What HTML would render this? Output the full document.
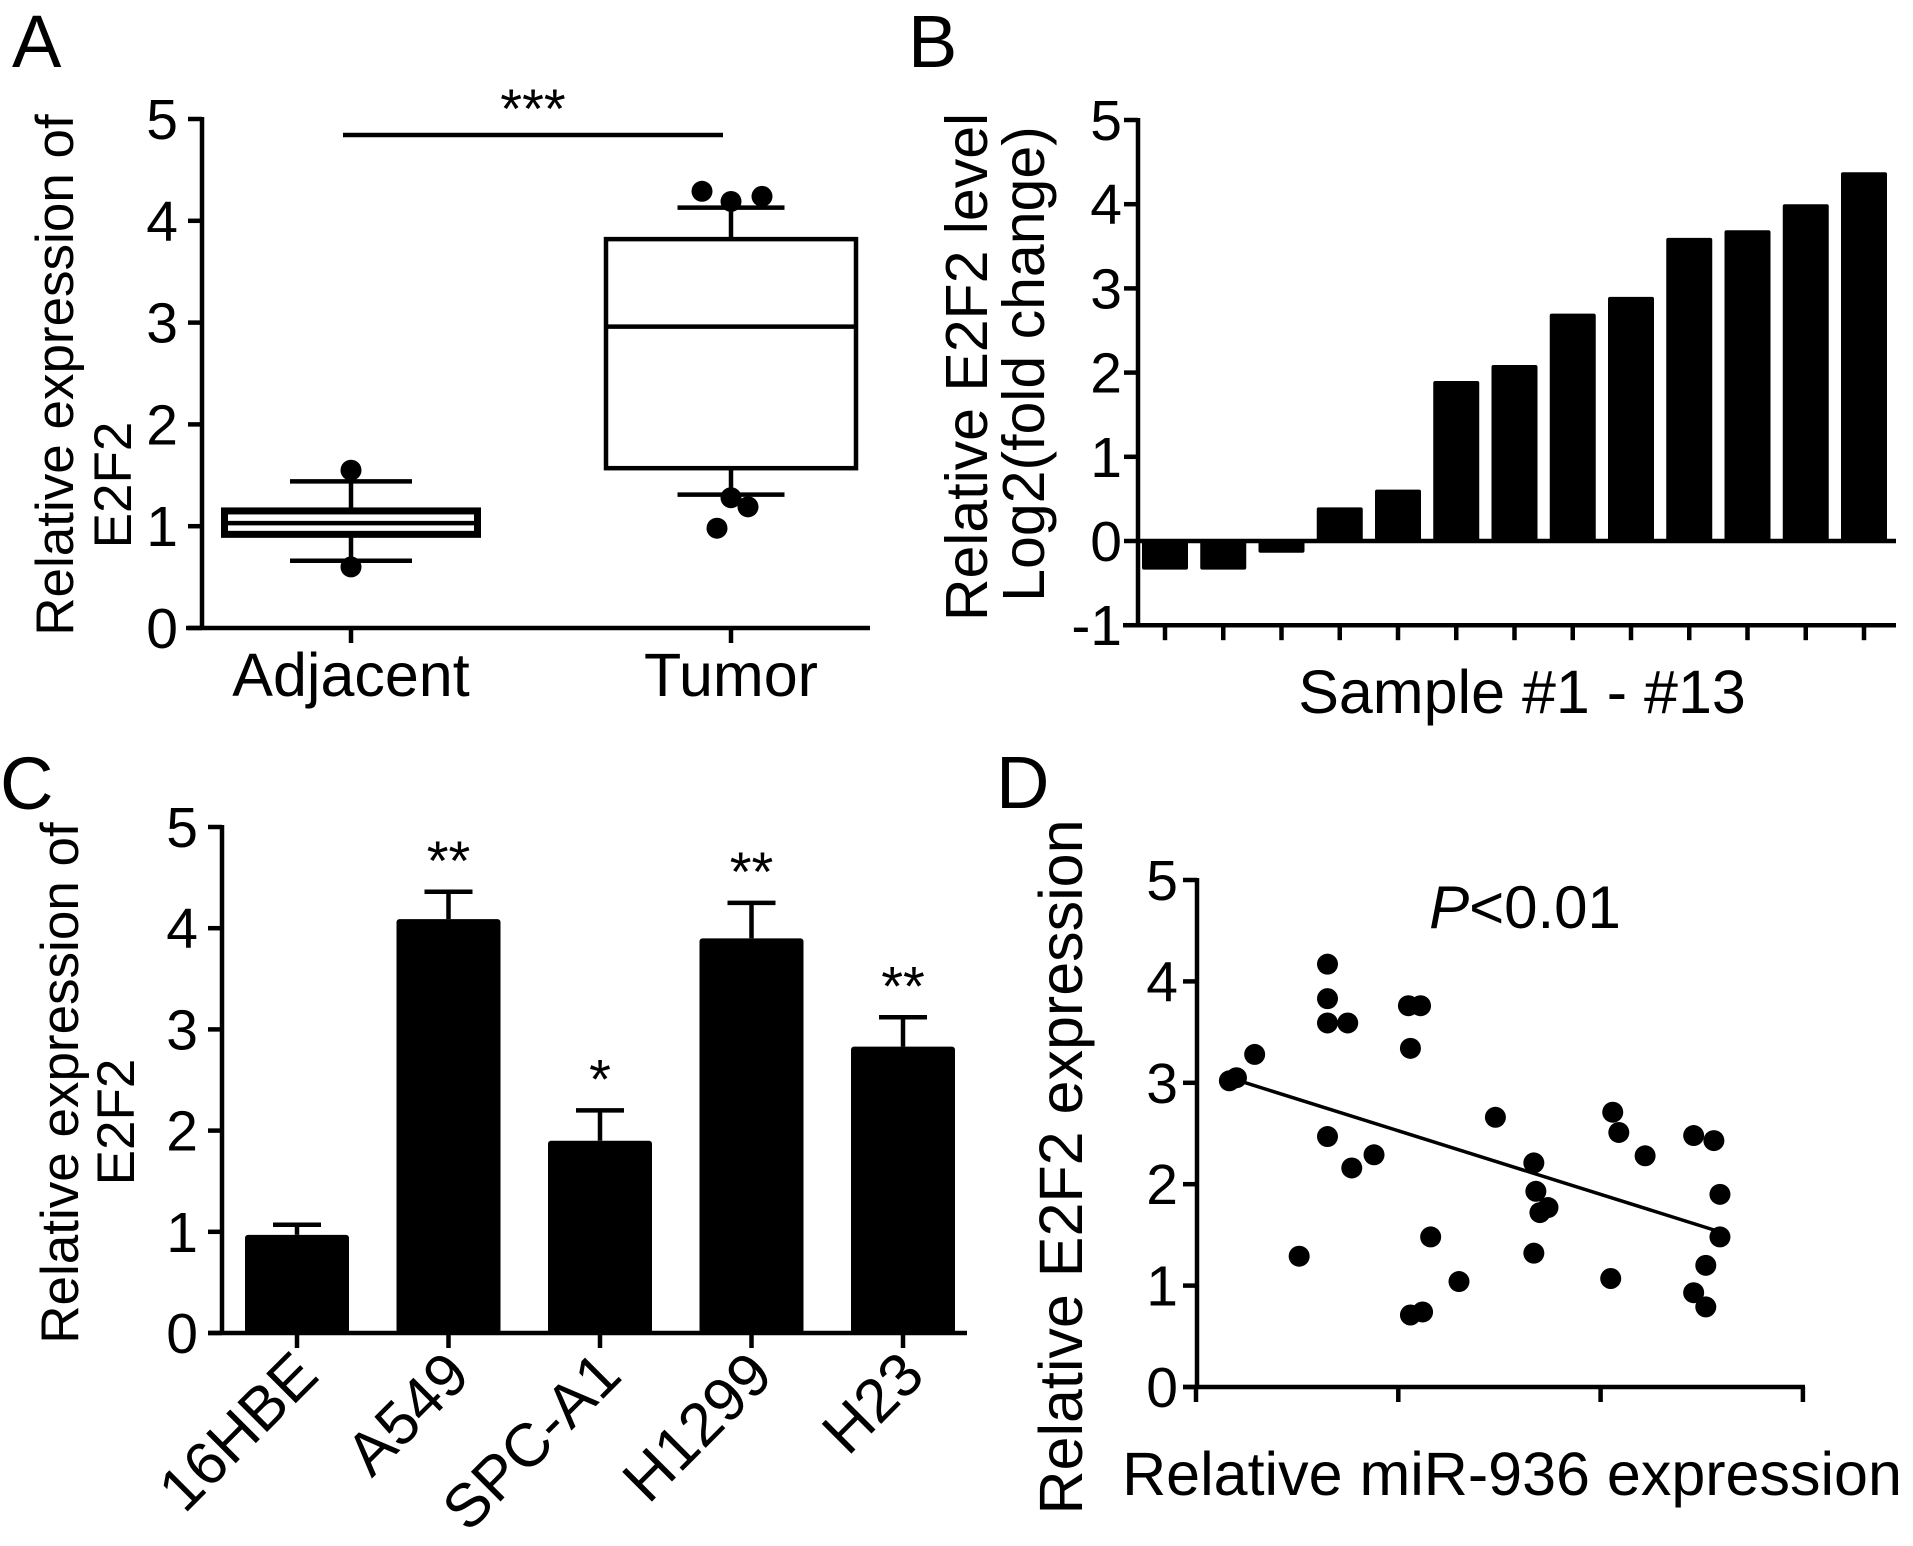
<!DOCTYPE html>
<html><head><meta charset="utf-8"><style>
html,body{margin:0;padding:0;background:#fff;}
svg{display:block;font-family:"Liberation Sans",Arial,sans-serif;}
</style></head><body>
<svg id="fig" width="1913" height="1546" viewBox="0 0 1913 1546" xmlns="http://www.w3.org/2000/svg">
<rect width="1913" height="1546" fill="#fff"/>
<g id="A"></g>
<g id="B"></g>
<g id="C"></g>
<g id="D"></g>
</svg>
<script>
// ---------- data ----------
const yTicks5 = [0,1,2,3,4,5];
const aCategories = ["Adjacent","Tumor"];
const aQ1 = [0.92,1.57];
const aMedian = [1.03,2.96];
const aQ3 = [1.15,3.82];
const aWhiskerLow = [0.66,1.31];
const aWhiskerHigh = [1.44,4.13];
const aOutlierGroup = [0,0,1,1,1,1,1,1];
const aOutlierDx = [0,0,-29,0,31,0,17,-14];
const aOutlierVal = [1.55,0.60,4.29,4.19,4.24,1.28,1.19,0.98];
const bTicks = [-1,0,1,2,3,4,5];
const bValues = [-0.34,-0.34,-0.14,0.40,0.61,1.90,2.09,2.70,2.90,3.60,3.69,4.00,4.38];
const cCategories = ["16HBE","A549","SPC-A1","H1299","H23"];
const cValues = [0.97,4.09,1.90,3.90,2.83];
const cErrTop = [1.07,4.36,2.20,4.25,3.12];
const cStars = ["","**","*","**","**"];
const dX = [0.165,0.20,0.29,0.51,0.65,0.65,0.65,0.75,0.65,0.77,0.88,1.05,1.11,1.06,1.16,1.06,1.12,1.30,1.48,1.67,1.68,1.70,1.74,1.67,2.06,2.09,2.22,2.05,2.46,2.56,2.59,2.59,2.52,2.46,2.52];
const dY = [3.02,3.05,3.28,1.29,4.17,3.83,3.59,3.59,2.47,2.16,2.29,3.76,3.76,3.34,1.48,0.71,0.74,1.04,2.66,2.21,1.93,1.72,1.77,1.32,2.71,2.51,2.28,1.07,2.48,2.43,1.90,1.48,1.20,0.93,0.79];
const dLineX = [0.165,2.59];
const dLineY = [3.05,1.53];
const dXTicks = [0,1,2,3];

const NS="http://www.w3.org/2000/svg";
function mk(parent,tag,attrs,text){const e=document.createElementNS(NS,tag);for(const k in attrs)e.setAttribute(k,attrs[k]);if(text!==undefined)e.textContent=text;parent.appendChild(e);return e;}
const SW=4.5, TF=57, LF=61;

// ---------- Panel A ----------
(function(){
const g=document.getElementById('A');
const y=v=>628-v*101.8; const xc=[351,731];
let t=mk(g,'text',{x:12,y:67,'font-size':74},'A');


let ax=mk(g,'line',{x1:202,y1:y(5)-2,x2:202,y2:y(0),stroke:'#000','stroke-width':SW});


ax=mk(g,'line',{x1:186,y1:y(0),x2:870,y2:y(0),stroke:'#000','stroke-width':SW});


yTicks5.forEach(v=>{
 mk(g,'line',{x1:188,y1:y(v),x2:202,y2:y(v),stroke:'#000','stroke-width':SW});
 const l=mk(g,'text',{x:178,y:y(v)+20,'font-size':TF,'text-anchor':'end'},String(v));
 
 
});
const boxW=[253,250], capW=[122,107];
aCategories.forEach((c,i)=>{
 const x=xc[i];
 mk(g,'line',{x1:x,y1:y(0),x2:x,y2:y(0)+15,stroke:'#000','stroke-width':SW});
 const l=mk(g,'text',{x:x,y:696,'font-size':LF,'text-anchor':'middle'},c);
 
 
 const sw=i===0?7:SW;
 const bx=mk(g,'rect',{x:x-boxW[i]/2,y:y(aQ3[i]),width:boxW[i],height:y(aQ1[i])-y(aQ3[i]),fill:'#fff',stroke:'#000','stroke-width':sw});
 
 
 mk(g,'line',{x1:x-boxW[i]/2,y1:y(aMedian[i]),x2:x+boxW[i]/2,y2:y(aMedian[i]),stroke:'#000','stroke-width':SW});
 mk(g,'line',{x1:x,y1:y(aQ3[i]),x2:x,y2:y(aWhiskerHigh[i]),stroke:'#000','stroke-width':SW});
 mk(g,'line',{x1:x,y1:y(aQ1[i]),x2:x,y2:y(aWhiskerLow[i]),stroke:'#000','stroke-width':SW});
 mk(g,'line',{x1:x-capW[i]/2,y1:y(aWhiskerHigh[i]),x2:x+capW[i]/2,y2:y(aWhiskerHigh[i]),stroke:'#000','stroke-width':SW});
 mk(g,'line',{x1:x-capW[i]/2,y1:y(aWhiskerLow[i]),x2:x+capW[i]/2,y2:y(aWhiskerLow[i]),stroke:'#000','stroke-width':SW});
});
aOutlierVal.forEach((v,i)=>{
 const d=mk(g,'circle',{cx:xc[aOutlierGroup[i]]+aOutlierDx[i],cy:y(v),r:10.5,fill:'#000'});
 
 
});
const s=mk(g,'line',{x1:343,y1:135,x2:723,y2:135,stroke:'#000','stroke-width':SW});


const st=mk(g,'text',{x:533,y:128,'font-size':56,'text-anchor':'middle'},'***');


const tt=mk(g,'text',{transform:'translate(73,375) rotate(-90)','font-size':53,'text-anchor':'middle'},'Relative expression of');


const t2=mk(g,'text',{transform:'translate(131,485) rotate(-90)','font-size':53,'text-anchor':'middle'},'E2F2');


})();

// ---------- Panel B ----------
(function(){
const g=document.getElementById('B');
const y=v=>541-v*84.2; const x=i=>1165+i*58.25;
let t=mk(g,'text',{x:908,y:67,'font-size':74},'B');


let ax=mk(g,'line',{x1:1138,y1:y(5)-2,x2:1138,y2:y(-1),stroke:'#000','stroke-width':SW});


ax=mk(g,'line',{x1:1123,y1:y(-1),x2:1896,y2:y(-1),stroke:'#000','stroke-width':SW});


mk(g,'line',{x1:1138,y1:y(0),x2:1896,y2:y(0),stroke:'#000','stroke-width':SW});
bTicks.forEach(v=>{
 mk(g,'line',{x1:1124,y1:y(v),x2:1138,y2:y(v),stroke:'#000','stroke-width':SW});
 const l=mk(g,'text',{x:1122,y:y(v)+20,'font-size':TF,'text-anchor':'end'},String(v));
 
 
});
bValues.forEach((v,i)=>{
 mk(g,'line',{x1:x(i),y1:y(-1),x2:x(i),y2:y(-1)+15,stroke:'#000','stroke-width':SW});
 const top=Math.min(y(v),y(0)), h=Math.abs(y(v)-y(0));
 const b=mk(g,'rect',{x:x(i)-23,y:top,width:46,height:h,rx:2,fill:'#000'});
 
 
});
const xt=mk(g,'text',{x:1522,y:713,'font-size':LF,'text-anchor':'middle'},'Sample #1 - #13');


const t1=mk(g,'text',{transform:'translate(987,367) rotate(-90)','font-size':59,'text-anchor':'middle'},'Relative E2F2 level');


const t2=mk(g,'text',{transform:'translate(1044,364) rotate(-90)','font-size':59,'text-anchor':'middle'},'Log2(fold change)');


})();

// ---------- Panel C ----------
(function(){
const g=document.getElementById('C');
const y=v=>1333-v*101.2; const x=i=>297+i*151.5;
let t=mk(g,'text',{x:0,y:809,'font-size':74},'C');


let ax=mk(g,'line',{x1:222,y1:y(5)-2,x2:222,y2:y(0),stroke:'#000','stroke-width':SW});


ax=mk(g,'line',{x1:208,y1:y(0),x2:967,y2:y(0),stroke:'#000','stroke-width':SW});


yTicks5.forEach(v=>{
 mk(g,'line',{x1:208,y1:y(v),x2:222,y2:y(v),stroke:'#000','stroke-width':SW});
 const l=mk(g,'text',{x:198,y:y(v)+20,'font-size':TF,'text-anchor':'end'},String(v));
 
 
});
cCategories.forEach((c,i)=>{
 mk(g,'line',{x1:x(i),y1:y(0),x2:x(i),y2:y(0)+15,stroke:'#000','stroke-width':SW});
 mk(g,'line',{x1:x(i),y1:y(cValues[i]),x2:x(i),y2:y(cErrTop[i]),stroke:'#000','stroke-width':SW});
 mk(g,'line',{x1:x(i)-24,y1:y(cErrTop[i]),x2:x(i)+24,y2:y(cErrTop[i]),stroke:'#000','stroke-width':SW});
 const b=mk(g,'rect',{x:x(i)-52,y:y(cValues[i]),width:104,height:y(0)-y(cValues[i]),rx:3,fill:'#000'});
 
 
 if(cStars[i]){
  const s=mk(g,'text',{x:x(i),y:y(cErrTop[i])-12,'font-size':56,'text-anchor':'middle'},cStars[i]);
  
  
 }
 const l=mk(g,'text',{transform:'translate('+(x(i)+24)+',1378) rotate(-45)','font-size':LF,'text-anchor':'end'},c);
 
 
});
const t1=mk(g,'text',{transform:'translate(78,1083) rotate(-90)','font-size':53,'text-anchor':'middle'},'Relative expression of');


const t2=mk(g,'text',{transform:'translate(134,1122) rotate(-90)','font-size':53,'text-anchor':'middle'},'E2F2');


})();

// ---------- Panel D ----------
(function(){
const g=document.getElementById('D');
const y=v=>1387-v*101.4; const x=v=>1196+v*202.3;
let t=mk(g,'text',{x:996,y:808,'font-size':74},'D');


let ax=mk(g,'line',{x1:1197,y1:y(5)-2,x2:1197,y2:y(0),stroke:'#000','stroke-width':SW});


ax=mk(g,'line',{x1:1183,y1:y(0),x2:1805,y2:y(0),stroke:'#000','stroke-width':SW});


yTicks5.forEach(v=>{
 mk(g,'line',{x1:1183,y1:y(v),x2:1197,y2:y(v),stroke:'#000','stroke-width':SW});
 const l=mk(g,'text',{x:1178,y:y(v)+20,'font-size':TF,'text-anchor':'end'},String(v));
 
 
});
dXTicks.forEach(v=>{
 mk(g,'line',{x1:x(v),y1:y(0),x2:x(v),y2:y(0)+15,stroke:'#000','stroke-width':SW});
});
const ln=mk(g,'line',{x1:x(dLineX[0]),y1:y(dLineY[0]),x2:x(dLineX[1]),y2:y(dLineY[1]),stroke:'#000','stroke-width':3.5});


dX.forEach((v,i)=>{
 const d=mk(g,'circle',{cx:x(v),cy:y(dY[i]),r:10.5,fill:'#000'});
 
 
});
const p=mk(g,'text',{x:1525,y:928,'font-size':60,'text-anchor':'middle'});


mk(p,'tspan',{'font-style':'italic'},'P');
mk(p,'tspan',{},'<0.01');
const xt=mk(g,'text',{x:1512,y:1495,'font-size':61,'text-anchor':'middle'},'Relative miR-936 expression');


const yt=mk(g,'text',{transform:'translate(1082,1167) rotate(-90)','font-size':61,'text-anchor':'middle'},'Relative E2F2 expression');


})();
</script>
</body></html>
